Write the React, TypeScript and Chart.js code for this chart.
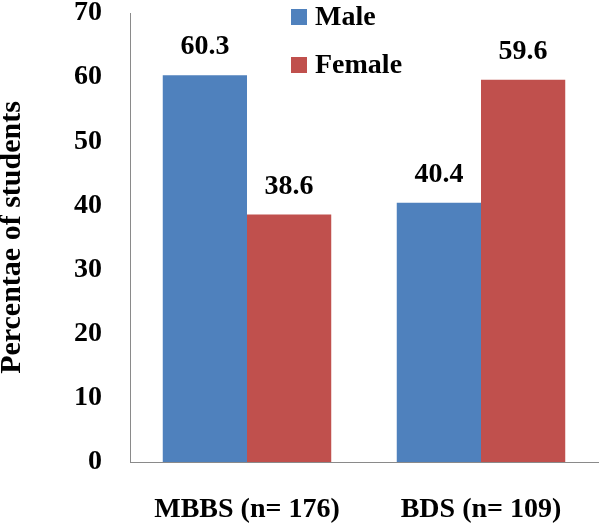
import React, { useEffect, useRef } from "react";
import { Chart, registerables } from "chart.js";

Chart.register(...registerables);

const categories = ["MBBS (n= 176)", "BDS (n= 109)"];
const maleValues = [60.3, 40.4];
const femaleValues = [38.6, 59.6];
const seriesNames = ["Male", "Female"];
const seriesColors = ["#4F81BD", "#C0504D"];
const yTicks = [0, 10, 20, 30, 40, 50, 60, 70];
const yTitle = "Percentae of students";

const FONT = "'Liberation Serif', 'Times New Roman', serif";
const FS = 28;

const dataLabelPlugin = {
  id: "dataLabels",
  afterDatasetsDraw(chart: any) {
    const ctx = chart.ctx;
    ctx.save();
    ctx.font = `bold ${FS}px ${FONT}`;
    ctx.fillStyle = "#000";
    ctx.textAlign = "center";
    ctx.textBaseline = "middle";
    chart.data.datasets.forEach((ds: any, i: number) => {
      const meta = chart.getDatasetMeta(i);
      meta.data.forEach((bar: any, j: number) => {
        const v = ds.data[j] as number;
        ctx.fillText(v.toFixed(1), bar.x, bar.y - 28);
      });
    });
    ctx.restore();
  },
};

const legendPlugin = {
  id: "customLegend",
  afterDraw(chart: any) {
    const ctx = chart.ctx;
    const area = chart.chartArea;
    ctx.save();
    ctx.font = `bold ${FS}px ${FONT}`;
    ctx.textAlign = "left";
    ctx.textBaseline = "middle";
    const x0 = area.left + 161;
    chart.data.datasets.forEach((ds: any, i: number) => {
      const cy = area.top + 4 + i * 48;
      ctx.fillStyle = ds.backgroundColor;
      ctx.fillRect(x0, cy - 8, 16, 16);
      ctx.fillStyle = "#000";
      ctx.fillText(ds.label, x0 + 24, cy + 1);
    });
    ctx.restore();
  },
};

export default function App() {
  const canvasRef = useRef<HTMLCanvasElement | null>(null);

  useEffect(() => {
    if (!canvasRef.current) return;
    const chart = new Chart(canvasRef.current, {
      type: "bar",
      data: {
        labels: categories,
        datasets: [
          {
            label: seriesNames[0],
            data: maleValues,
            backgroundColor: seriesColors[0],
            borderWidth: 0,
            barPercentage: 1,
            categoryPercentage: 0.72,
          },
          {
            label: seriesNames[1],
            data: femaleValues,
            backgroundColor: seriesColors[1],
            borderWidth: 0,
            barPercentage: 1,
            categoryPercentage: 0.72,
          },
        ],
      },
      options: {
        responsive: false,
        animation: false,
        maintainAspectRatio: false,
        layout: { padding: { top: 13, right: 2, left: 0, bottom: 0 } },
        plugins: {
          legend: { display: false },
          tooltip: { enabled: false },
        },
        scales: {
          x: {
            grid: { display: false, drawTicks: false },
            border: { display: true, color: "#8a8a8a", width: 1 },
            ticks: {
              color: "#000",
              font: { family: FONT, size: FS, weight: "bold", lineHeight: 1.2 },
              padding: 31,
              maxRotation: 0,
              autoSkip: false,
            },
            afterFit(scale: any) {
              scale.height = 61;
              scale.paddingLeft = 0;
              scale.paddingRight = 0;
            },
          },
          y: {
            min: 0,
            max: 70,
            grid: { display: false, drawTicks: false },
            border: { display: true, color: "#8a8a8a", width: 1 },
            afterBuildTicks(scale: any) {
              scale.ticks = yTicks.map((v) => ({ value: v }));
            },
            ticks: {
              color: "#000",
              font: { family: FONT, size: FS, weight: "bold", lineHeight: 1 },
              padding: 28,
            },
            title: {
              display: true,
              text: yTitle,
              color: "#000",
              font: { family: FONT, size: 30, weight: "bold", lineHeight: 0.8 },
              padding: { top: 0, bottom: 0 },
            },
            afterFit(scale: any) {
              scale.width = 130;
              scale.paddingTop = 0;
              scale.paddingBottom = 0;
            },
          },
        },
      },
      plugins: [dataLabelPlugin, legendPlugin],
    } as any);
    return () => chart.destroy();
  }, []);

  return (
    <div style={{ position: "absolute", left: 0, top: 0, width: 600, height: 523, background: "#fff" }}>
      <canvas ref={canvasRef} width={600} height={523} style={{ width: 600, height: 523, display: "block" }} />
    </div>
  );
}
